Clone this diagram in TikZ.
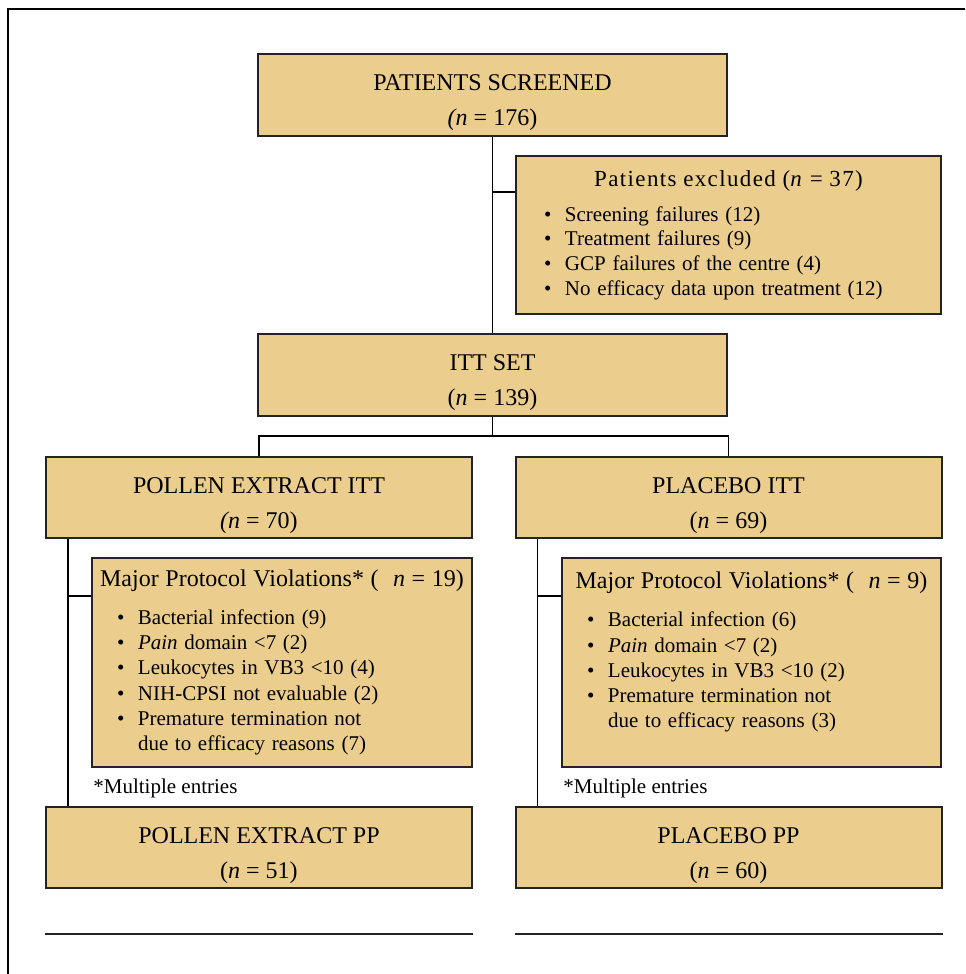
\documentclass[tikz,border=0pt]{standalone}
\usepackage{fontspec}
\setmainfont{Liberation Serif}
\usepackage{xcolor}
\usepackage{tikz}
\usetikzlibrary{positioning,calc}

\definecolor{boxtan}{RGB}{235,206,142}
\definecolor{edgegray}{RGB}{35,35,35}
\newcommand{\bul}{\makebox[10.5pt][l]{\textbullet}}
\newcommand{\topstrut}{\rule{0pt}{16pt}}

\begin{document}
\begin{tikzpicture}[x=0.5pt,y=-0.5pt,
    stage/.style={draw=edgegray, line width=1pt, fill=boxtan, align=center,
        inner sep=0pt, font=\fontsize{12}{17.5}\selectfont},
    wide/.style={minimum width=234.5pt, minimum height=41pt},
    arm/.style={minimum width=213pt, minimum height=40.5pt},
    listbox/.style={draw=edgegray, line width=1pt, fill=boxtan, inner sep=0pt},
    link/.style={draw=black, line width=0.75pt},
    note/.style={font=\fontsize{10.5}{12.6}\selectfont, anchor=base west, inner sep=0pt}]
    \useasboundingbox (0,0) rectangle (965,974);

    % Outer frame
    \draw[line width=1.4pt] (965,9) -- (8,9) -- (8,974);

    % Screening and exclusion
    \node[stage, wide] (screened) at (492.5,95) {\topstrut PATIENTS SCREENED\\\textit{(n} = 176)};
    \node[listbox, minimum width=212.5pt, minimum height=79pt, text width=212.5pt] (excl) at (728.5,235) {%
        {\centering\fontsize{11.5}{14}\selectfont\addfontfeature{LetterSpace=6}Patients excluded (\textit{n} = 37)\par}
        \vspace{5.2pt}
        {\fontsize{10.5}{12.3}\selectfont\raggedright\leftskip=14pt
        \bul Screening failures (12)\\
        \bul Treatment failures (9)\\
        \bul GCP failures of the centre (4)\\
        \bul No efficacy data upon treatment (12)\par}};
    \node[stage, wide] (itt) at (492.5,374.5) {\topstrut ITT SET\\(\textit{n} = 139)};

    % Treatment arms
    \node[stage, arm] (pollen) at (259,497.5) {\topstrut POLLEN EXTRACT ITT\\\textit{(n} = 70)};
    \node[stage, arm] (placebo) at (728.5,497.5) {\topstrut PLACEBO ITT\\(\textit{n} = 69)};

    % Protocol violations
    \node[listbox, minimum width=190pt, minimum height=104.5pt, text width=190pt] (pollenviol) at (282,662.5) {%
        {\centering\fontsize{12}{14}\selectfont Major Protocol Violations* (\hspace{0.6em}\textit{n} = 19)\par}
        \vspace{6.4pt}
        {\fontsize{10.5}{12.6}\selectfont\raggedright\leftskip=12.5pt
        \bul Bacterial infection (9)\\
        \bul \textit{Pain} domain <7 (2)\\
        \bul Leukocytes in VB3 <10 (4)\\
        \bul NIH-CPSI not evaluable (2)\\
        \bul Premature termination not\\
        \hspace*{10.5pt}due to efficacy reasons (7)\par}};
    \node[listbox, minimum width=189.5pt, minimum height=104.5pt, text width=189.5pt] (placeboviol) at (751.5,662.5) {%
        {\centering\fontsize{12}{14}\selectfont Major Protocol Violations* (\hspace{0.6em}\textit{n} = 9)\par}
        \vspace{6.4pt}
        {\fontsize{10.5}{12.6}\selectfont\raggedright\leftskip=12.5pt
        \bul Bacterial infection (6)\\
        \bul \textit{Pain} domain <7 (2)\\
        \bul Leukocytes in VB3 <10 (2)\\
        \bul Premature termination not\\
        \hspace*{10.5pt}due to efficacy reasons (3)\\
        \mbox{}\par}};
    \node[note] (pollennote) at (93,793) {*Multiple entries};
    \node[note] (placebonote) at (563,793) {*Multiple entries};

    % Per-protocol sets
    \node[stage, arm] (pollenpp) at (259,847.5) {\topstrut POLLEN EXTRACT PP\\(\textit{n} = 51)};
    \node[stage, arm] (placebopp) at (728.5,847.5) {\topstrut PLACEBO PP\\(\textit{n} = 60)};

    % Connectors
    \draw[link] (screened) -- (itt);
    \coordinate (xjoin) at (492.5,192);
    \draw[link] (xjoin) -- (xjoin -| excl.west);
    \coordinate (split) at (492.5,436);
    \draw[link] (itt) -- (split);
    \draw[link] (pollen.north) |- (split) -| (placebo.north);

    \coordinate (pstem) at ([xshift=11.5pt]pollen.south west);
    \draw[link] (pstem) -- (pstem |- pollenpp.north);
    \coordinate (pvjoin) at ([yshift=-19.5pt]pollenviol.north west);
    \draw[link] (pvjoin) -- (pvjoin -| pstem);

    \coordinate (qstem) at ([xshift=11.5pt]placebo.south west);
    \draw[link] (qstem) -- (qstem |- placebopp.north);
    \coordinate (qvjoin) at ([yshift=-19.5pt]placeboviol.north west);
    \draw[link] (qvjoin) -- (qvjoin -| qstem);

    % Closing rules
    \draw[line width=1pt, edgegray] (pollenpp.south west |- 0,934) -- (pollenpp.south east |- 0,934);
    \draw[line width=1pt, edgegray] (placebopp.south west |- 0,934) -- (placebopp.south east |- 0,934);
\end{tikzpicture}
\end{document}
